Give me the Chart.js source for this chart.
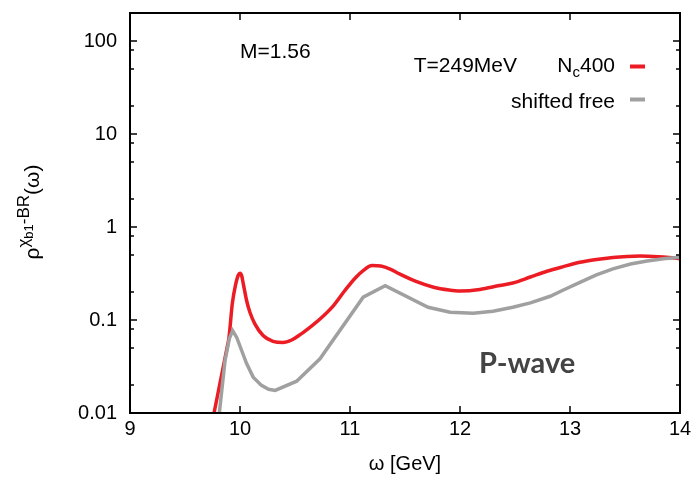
<!DOCTYPE html>
<html lang="en">
<head>
<meta charset="UTF-8">
<title>P-wave spectral function</title>
<script src="https://cdn.jsdelivr.net/npm/chart.js"></script>
<style>
  html, body { margin: 0; padding: 0; background: #fff; }
</style>
</head>
<body>
<canvas id="chart" width="692" height="478"></canvas>
<script>
// omega [GeV] and rho values
const nc400W = [9.70, 9.764, 9.82, 9.88, 9.90, 9.93, 9.96, 9.985, 10.0, 10.015, 10.03, 10.06, 10.09, 10.135,
  10.21, 10.30, 10.39, 10.47, 10.55, 10.65, 10.73, 10.85, 10.95, 11.05, 11.12, 11.2, 11.28, 11.37, 11.45,
  11.6, 11.76, 11.9, 12.0, 12.18, 12.36, 12.48, 12.64, 12.79, 12.94, 13.09, 13.24, 13.39, 13.52, 13.64,
  13.8, 13.9, 14.0];
const nc400Rho = [0.0042, 0.01, 0.0215, 0.0486, 0.065, 0.15, 0.24, 0.305, 0.318, 0.30, 0.245, 0.162, 0.121, 0.091,
  0.068, 0.059, 0.0572, 0.061, 0.070, 0.086, 0.103, 0.143, 0.205, 0.285, 0.34, 0.385, 0.38, 0.35, 0.313,
  0.26, 0.225, 0.21, 0.205, 0.213, 0.235, 0.25, 0.29, 0.334, 0.375, 0.417, 0.447, 0.47, 0.482, 0.487,
  0.48, 0.47, 0.455];

const freeW = [9.78, 9.812, 9.864, 9.903, 9.933, 9.97, 10.015, 10.06, 10.12, 10.195, 10.26, 10.32, 10.515,
  10.727, 11.12, 11.32, 11.71, 11.91, 12.12, 12.3, 12.48, 12.64, 12.82, 12.94, 13.09, 13.24, 13.39, 13.55,
  13.7, 13.85, 13.97, 14.0];
const freeRho = [0.0059, 0.01, 0.0367, 0.063, 0.077, 0.065, 0.047, 0.034, 0.0243, 0.0198, 0.018, 0.0175, 0.022,
  0.0383, 0.176, 0.234, 0.137, 0.121, 0.118, 0.124, 0.137, 0.153, 0.18, 0.21, 0.254, 0.305, 0.355, 0.4,
  0.43, 0.455, 0.47, 0.472];

const xTicks = [9, 10, 11, 12, 13, 14];
const yTicks = [0.01, 0.1, 1, 10, 100];
const yMinorTicks = [0.02, 0.05, 0.08, 0.2, 0.5, 0.8, 2, 5, 8, 20, 50, 80];

const RED = 'rgb(236,28,36)';
const GRAY = 'rgb(160,160,160)';
const FONT = '"Liberation Sans", Arial, sans-serif';

// box around the plot with inward ticks (gnuplot style)
const frame = {
  id: 'frame',
  afterDraw(chart) {
    const { ctx, chartArea: a, scales: { x, y } } = chart;
    ctx.save();
    ctx.strokeStyle = '#000';
    ctx.lineWidth = 1.5;
    ctx.beginPath();
    xTicks.forEach(v => {
      const px = x.getPixelForValue(v);
      ctx.moveTo(px, a.bottom); ctx.lineTo(px, a.bottom - 7);
      ctx.moveTo(px, a.top); ctx.lineTo(px, a.top + 7);
    });
    yTicks.forEach(v => {
      const py = y.getPixelForValue(v);
      ctx.moveTo(a.left, py); ctx.lineTo(a.left + 7, py);
      ctx.moveTo(a.right, py); ctx.lineTo(a.right - 7, py);
    });
    yMinorTicks.forEach(v => {
      const py = y.getPixelForValue(v);
      ctx.moveTo(a.left, py); ctx.lineTo(a.left + 4, py);
      ctx.moveTo(a.right, py); ctx.lineTo(a.right - 4, py);
    });
    ctx.stroke();
    ctx.lineWidth = 2;
    ctx.strokeRect(a.left, a.top, a.right - a.left, a.bottom - a.top);
    ctx.restore();
  }
};

// texts inside the plot, legend and the y axis title with super/subscripts
const labels = {
  id: 'labels',
  afterDraw(chart) {
    const { ctx } = chart;
    const ds = chart.data.datasets;
    ctx.save();
    ctx.fillStyle = '#000';
    ctx.textBaseline = 'alphabetic';
    ctx.font = '21px ' + FONT;
    ctx.textAlign = 'left';
    ctx.fillText('M=1.56', 240, 58);
    ctx.textAlign = 'right';
    ctx.fillText('T=249MeV', 517, 72);
    ctx.fillText('shifted free', 615, 108);

    // N_c400
    ctx.fillText('400', 615, 72);
    let w = ctx.measureText('400').width;
    ctx.font = '15px ' + FONT;
    ctx.fillText('c', 615 - w, 77);
    w += ctx.measureText('c').width;
    ctx.font = '21px ' + FONT;
    ctx.fillText('N', 615 - w, 72);

    ctx.lineWidth = 4;
    ctx.strokeStyle = ds[0].borderColor;
    ctx.beginPath(); ctx.moveTo(630, 66.5); ctx.lineTo(645, 66.5); ctx.stroke();
    ctx.strokeStyle = ds[1].borderColor;
    ctx.beginPath(); ctx.moveTo(630, 99.5); ctx.lineTo(645, 99.5); ctx.stroke();

    ctx.fillStyle = '#444';
    ctx.textAlign = 'left';
    ctx.font = 'bold 29px Lato, "DejaVu Sans", sans-serif';
    ctx.fillText('P-wave', 479, 373);

    // y title
    const parts = [
      { t: 'ρ', s: 21, dy: 0 },
      { t: 'χ', s: 17, dy: -10 },
      { t: 'b1', s: 13, dy: -6 },
      { t: '-BR', s: 17, dy: -10 },
      { t: '(ω)', s: 21, dy: 0 }
    ];
    let total = 0;
    parts.forEach(p => { ctx.font = p.s + 'px ' + FONT; p.w = ctx.measureText(p.t).width; total += p.w; });
    ctx.fillStyle = '#000';
    ctx.translate(39, 212);
    ctx.rotate(-Math.PI / 2);
    let cx = -total / 2;
    parts.forEach(p => {
      ctx.font = p.s + 'px ' + FONT;
      ctx.fillText(p.t, cx, p.dy);
      cx += p.w;
    });
    ctx.restore();
  }
};

new Chart(document.getElementById('chart'), {
  type: 'line',
  data: {
    datasets: [
      {
        label: 'Nc400',
        data: nc400W.map((w, i) => ({ x: w, y: nc400Rho[i] })),
        borderColor: RED,
        borderWidth: 3.5,
        pointRadius: 0,
        cubicInterpolationMode: 'monotone',
        clip: 0,
        order: 2
      },
      {
        label: 'shifted free',
        data: freeW.map((w, i) => ({ x: w, y: freeRho[i] })),
        borderColor: GRAY,
        borderWidth: 3.5,
        pointRadius: 0,
        tension: 0,
        clip: 0,
        order: 1
      }
    ]
  },
  options: {
    responsive: false,
    devicePixelRatio: 1,
    animation: false,
    layout: { padding: { top: 13, right: 12, left: 0, bottom: 0 } },
    plugins: { legend: { display: false }, tooltip: { enabled: false } },
    scales: {
      x: {
        type: 'linear', min: 9, max: 14,
        afterBuildTicks: s => { s.ticks = xTicks.map(v => ({ value: v })); },
        afterFit: s => { s.height = 65; s.paddingLeft = 0; s.paddingRight = 0; },
        ticks: { font: { size: 20, family: FONT }, color: '#000', padding: 4, maxRotation: 0 },
        grid: { display: false, drawTicks: false },
        border: { display: false },
        title: { display: true, text: 'ω [GeV]', color: '#000', font: { size: 20, family: FONT }, padding: { top: 0, bottom: 2 } }
      },
      y: {
        type: 'logarithmic', min: 0.01, max: 200, bounds: 'data',
        afterBuildTicks: s => { s.ticks = yTicks.map(v => ({ value: v })); s.min = 0.01; s.max = 200; },
        afterFit: s => { s.width = 130; s.paddingTop = 0; s.paddingBottom = 0; },
        ticks: { font: { size: 20, family: FONT }, color: '#000', padding: 13, callback: v => String(v) },
        grid: { display: false, drawTicks: false },
        border: { display: false }
      }
    }
  },
  plugins: [frame, labels]
});
</script>
</body>
</html>
